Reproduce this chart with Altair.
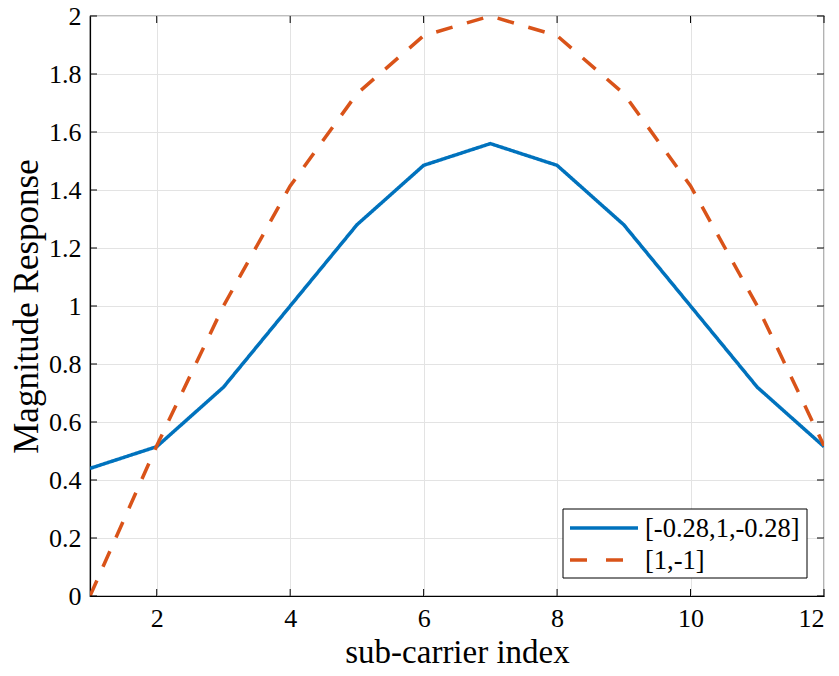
import altair as alt
import pandas as pd

x_idx = [1, 2, 3, 4, 5, 6, 7, 8, 9, 10, 11, 12]
blue_vals = [0.44, 0.515, 0.72, 1.0, 1.28, 1.485, 1.56, 1.485, 1.28, 1.0, 0.72, 0.515]
orange_vals = [0.0, 0.518, 1.0, 1.414, 1.732, 1.932, 2.0, 1.932, 1.732, 1.414, 1.0, 0.518]
series_names = ["[-0.28,1,-0.28]", "[1,-1]"]
series_colors = ["#0072BD", "#D95319"]
x_ticks = [2, 4, 6, 8, 10, 12]
y_ticks = [0, 0.2, 0.4, 0.6, 0.8, 1, 1.2, 1.4, 1.6, 1.8, 2]

rows = []
for xi, v in zip(x_idx, blue_vals):
    rows.append({"x": xi, "y": v, "s": series_names[0]})
for xi, v in zip(x_idx, orange_vals):
    rows.append({"x": xi, "y": v, "s": series_names[1]})
df = pd.DataFrame(rows)

W, H = 734, 580
FONT = "Liberation Serif"
LW = 3.5
DASH = [17, 15]

xs = alt.Scale(domain=[1, 12], nice=False, zero=False)
ys = alt.Scale(domain=[0, 2], nice=False)

lines = alt.Chart(df).mark_line(strokeWidth=LW, clip=True).encode(
    x=alt.X("x:Q", scale=xs, axis=alt.Axis(values=x_ticks, title="sub-carrier index",
                                          tickSize=0, labelPadding=9, titlePadding=5,
                                          titleFontSize=33, grid=True, format="d")),
    y=alt.Y("y:Q", scale=ys, axis=alt.Axis(values=y_ticks, title="Magnitude Response",
                                          tickSize=0, labelPadding=9, titlePadding=4,
                                          titleFontSize=35, grid=True, format="~g")),
    color=alt.Color("s:N", scale=alt.Scale(domain=series_names, range=series_colors), legend=None),
    strokeDash=alt.StrokeDash("s:N", scale=alt.Scale(domain=series_names, range=[[1, 0], DASH]),
                              legend=None),
)

xt = pd.DataFrame({"t": x_ticks})
yt = pd.DataFrame({"t": y_ticks})
tick_b = alt.Chart(xt).mark_rule(color="black", strokeWidth=1).encode(
    x=alt.X("t:Q", scale=xs), y=alt.value(H), y2=alt.value(H - 7))
tick_t = alt.Chart(xt).mark_rule(color="black", strokeWidth=1).encode(
    x=alt.X("t:Q", scale=xs), y=alt.value(0), y2=alt.value(7))
tick_l = alt.Chart(yt).mark_rule(color="black", strokeWidth=1).encode(
    y=alt.Y("t:Q", scale=ys), x=alt.value(0), x2=alt.value(7))
tick_r = alt.Chart(yt).mark_rule(color="black", strokeWidth=1).encode(
    y=alt.Y("t:Q", scale=ys), x=alt.value(W), x2=alt.value(W - 7))

# manual legend box (MATLAB style)
leg_df = pd.DataFrame({"s": series_names})
LX0, LX1, LY0, LY1 = 473, 717, 493, 562
ROW_Y = [512, 544]
legend_box = alt.Chart(leg_df.head(1)).mark_rect(fill="white", stroke="black", strokeWidth=1).encode(
    x=alt.value(LX0), x2=alt.value(LX1), y=alt.value(LY0), y2=alt.value(LY1))
leg_layers = [legend_box]
for i, name in enumerate(series_names):
    d = leg_df[leg_df["s"] == name]
    rule_kwargs = dict(color=series_colors[i], strokeWidth=LW)
    if i == 1:
        rule_kwargs["strokeDash"] = [17, 19]
    leg_layers.append(alt.Chart(d).mark_rule(**rule_kwargs).encode(
        x=alt.value(480), x2=alt.value(548), y=alt.value(ROW_Y[i])))
    leg_layers.append(alt.Chart(d).mark_text(align="left", baseline="middle", font=FONT,
                                             fontSize=26.5, color="black", dy=1).encode(
        x=alt.value(555), y=alt.value(ROW_Y[i]), text="s:N"))

chart = alt.layer(lines, tick_b, tick_t, tick_l, tick_r, *leg_layers).properties(
    width=W, height=H,
    autosize=alt.AutoSizeParams(type="none"),
    padding={"left": 82, "top": 8, "right": 7, "bottom": 72},
).configure_view(stroke="black", strokeWidth=1.2).configure_axis(
    labelFont=FONT, titleFont=FONT, labelFontSize=26,
    labelColor="black", titleColor="black", titleFontWeight="normal",
    domainColor="black", domainWidth=1.2, gridColor="#e3e3e3", gridWidth=1,
)

chart.save("out.html", embed_options={"renderer": "svg", "actions": False})
